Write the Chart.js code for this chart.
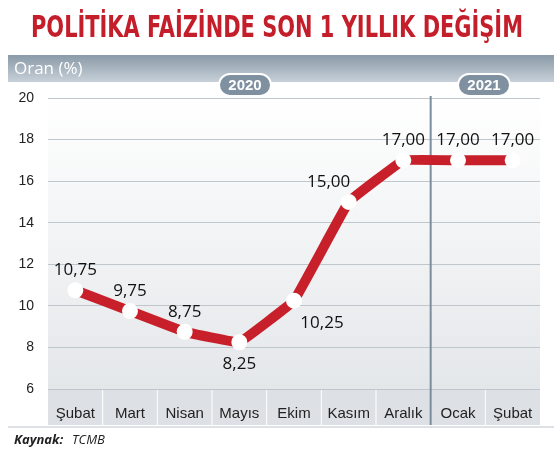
<!DOCTYPE html><html><head><meta charset="utf-8">
<script src="https://cdn.jsdelivr.net/npm/chart.js@4"></script>
<style>body{margin:0;background:#fff}#w{width:554px;height:465px;position:relative}</style></head><body>
<div id="w"><canvas id="c" width="554" height="465"></canvas></div>
<script>
const categories=['Şubat','Mart','Nisan','Mayıs','Ekim','Kasım','Aralık','Ocak','Şubat'];
const values=[10.75,9.75,8.75,8.25,10.25,15,17,17,17];
const labels=['10,75','9,75','8,75','8,25','10,25','15,00','17,00','17,00','17,00'];
const yTicks=[6,8,10,12,14,16,18,20];
const below=[false,false,false,true,true,false,false,false,false];
function fitText(c,t,x,y,w){const m=c.measureText(t).width;c.save();c.translate(x,y);c.scale(Math.min(1,w/m),1);c.fillText(t,0,0);c.restore();}
const deco={id:'deco',beforeDraw(ch){const c=ch.ctx,a=ch.chartArea;c.save();
c.fillStyle='#fff';c.fillRect(0,0,554,465);
c.font='bold 30px "DejaVu Sans Condensed","Liberation Sans",sans-serif';c.fillStyle='#c41e2a';c.textAlign='center';c.textBaseline='middle';
fitText(c,'POLİTİKA FAİZİNDE SON 1 YILLIK DEĞİŞİM',277,29,492);
let g=c.createLinearGradient(0,55,0,82);g.addColorStop(0,'#8a9aa8');g.addColorStop(1,'#c7d0d8');c.fillStyle=g;c.fillRect(8,55,546,27);
c.fillStyle='#fff';c.font='17px "Open Sans",sans-serif';c.textAlign='left';c.fillText('Oran (%)',14,69);
g=c.createLinearGradient(0,a.top,0,a.bottom);g.addColorStop(0,'#ffffff');g.addColorStop(1,'#e4e7ea');c.fillStyle=g;c.fillRect(a.left,84,a.right-a.left,a.bottom-84);
c.fillStyle='#dde1e5';c.fillRect(a.left,a.bottom,a.right-a.left,36);
const xs=ch.scales.x;c.strokeStyle='#fff';c.lineWidth=1;
for(let i=0;i<categories.length-1;i++){const x=(xs.getPixelForValue(i)+xs.getPixelForValue(i+1))/2;c.beginPath();c.moveTo(x,a.bottom);c.lineTo(x,a.bottom+36);c.stroke();}
c.strokeStyle='#bcc4cc';c.beginPath();c.moveTo(8,a.bottom+38);c.lineTo(554,a.bottom+38);c.stroke();
c.fillStyle='#222';c.font='italic bold 13px "Open Sans",sans-serif';c.textAlign='left';c.fillText('Kaynak:',14,440);
c.font='italic 13px "Open Sans",sans-serif';c.fillText('TCMB',72,440);c.restore();},
beforeDatasetsDraw(ch){const c=ch.ctx,a=ch.chartArea,xs=ch.scales.x;c.save();
const vx=(xs.getPixelForValue(6)+xs.getPixelForValue(7))/2;c.strokeStyle='#7b8d9c';c.lineWidth=2;c.beginPath();c.moveTo(vx,96);c.lineTo(vx,a.bottom+36);c.stroke();
function pill(x,t){c.fillStyle='#7f90a0';c.beginPath();c.roundRect(x-26,74,52,22,11);c.fill();c.strokeStyle='#fff';c.lineWidth=2;c.stroke();c.fillStyle='#fff';c.font='bold 15px "Liberation Sans",sans-serif';c.textAlign='center';c.textBaseline='middle';c.fillText(t,x,86);}
pill(245,'2020');pill(484,'2021');c.restore();}};
const lbl={id:'lbl',afterDatasetsDraw(ch){const c=ch.ctx,m=ch.getDatasetMeta(0);c.save();c.font='17px "Open Sans",sans-serif';c.fillStyle='#111';c.textAlign='center';c.textBaseline='middle';
m.data.forEach((p,i)=>{let x=p.x,y=p.y-20;if(below[i]){y=p.y+22;if(i==4)x+=28;}if(i==5)x-=20;c.fillText(labels[i],x,y);});c.restore();}};
new Chart(document.getElementById('c'),{type:'line',data:{labels:categories,datasets:[{data:values,borderColor:'#c8202a',borderWidth:10,pointRadius:3,pointBackgroundColor:'#fff',pointBorderColor:'#fff',tension:0.05,borderCapStyle:'round',borderJoinStyle:'round'}]},
options:{responsive:false,animation:false,layout:{padding:{top:98,left:0,right:6,bottom:0}},plugins:{legend:{display:false},tooltip:{enabled:false}},
scales:{x:{grid:{display:false},border:{display:false},offset:true,ticks:{color:'#222',font:{size:15,family:'"Liberation Sans",sans-serif'},padding:8},afterFit(s){s.height=76}},
y:{min:6,max:20,afterBuildTicks(s){s.ticks=yTicks.map(v=>({value:v}))},grid:{color:'#bfc6cc',drawTicks:false,lineWidth:1},border:{display:false},ticks:{color:'#222',font:{size:14,family:'"Liberation Sans",sans-serif'},padding:14},afterFit(s){s.width=48}}}},
plugins:[deco,lbl]});
</script></body></html>
